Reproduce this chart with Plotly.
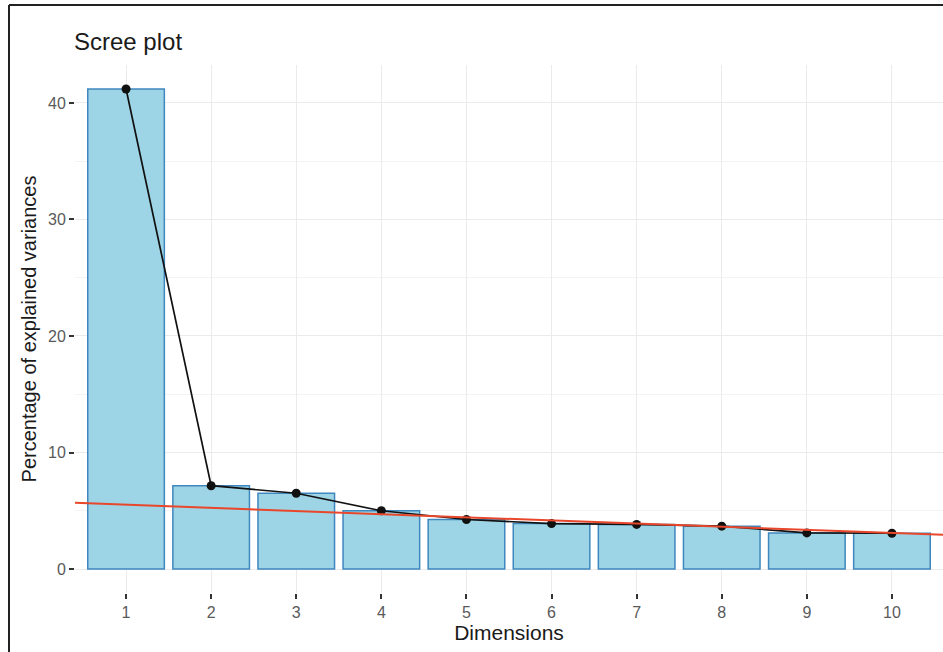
import plotly.graph_objects as go

# Explained variance (%) per principal dimension
dimensions = [1, 2, 3, 4, 5, 6, 7, 8, 9, 10]
explained_var = [41.2, 7.15, 6.5, 5.0, 4.25, 3.9, 3.83, 3.68, 3.1, 3.07]

# Straight reference line across the panel
trend_x = [0.4, 10.6]
trend_y = [5.68, 2.93]

x_ticks = [str(d) for d in dimensions]
y_ticks = [0, 10, 20, 30, 40]

W, H = 943, 652
ML, MR, MT, MB = 75, 0, 65, 59
pw, ph = W - ML - MR, H - MT - MB

fig = go.Figure()

fig.add_trace(go.Bar(
    x=dimensions, y=explained_var, width=0.9,
    marker=dict(color="#9DD5E6", line=dict(color="#3F87BE", width=1.5)),
    showlegend=False, hoverinfo="skip",
))

fig.add_trace(go.Scatter(
    x=dimensions, y=explained_var, mode="lines+markers",
    line=dict(color="#111111", width=1.7),
    marker=dict(color="#111111", size=9),
    showlegend=False,
))

fig.add_trace(go.Scatter(
    x=trend_x, y=trend_y, mode="lines",
    line=dict(color="#E8472B", width=2),
    showlegend=False,
))

# outer frame on the left and top edges
def px_x(p):
    return (p - ML) / pw

def px_y(p):
    return (H - MB - p) / ph

frame = dict(color="#222222", width=2)
fig.add_shape(type="line", xref="paper", yref="paper",
              x0=px_x(9), x1=px_x(9), y0=px_y(660), y1=px_y(5), line=frame)
fig.add_shape(type="line", xref="paper", yref="paper",
              x0=px_x(9), x1=px_x(950), y0=px_y(5), y1=px_y(5), line=frame)

font_family = "Liberation Sans, Arial, sans-serif"

fig.update_layout(
    width=W, height=H,
    margin=dict(l=ML, r=MR, t=MT, b=MB),
    paper_bgcolor="white", plot_bgcolor="white",
    font=dict(family=font_family, color="#222222"),
    title=dict(text="Scree plot", x=74 / W, xanchor="left",
               y=1 - 42 / H, yanchor="middle",
               font=dict(size=24, color="#1a1a1a", family=font_family)),
    bargap=0.1,
)

fig.update_xaxes(
    range=[0.4, 10.6], tickmode="array", tickvals=dimensions, ticktext=x_ticks,
    showgrid=True, gridcolor="#EBEBEB", gridwidth=1,
    ticks="outside", ticklen=5, tickcolor="#333333", tickwidth=1.5,
    tickfont=dict(size=16, color="#5A5A5A"),
    title=dict(text="Dimensions", font=dict(size=21, color="#1a1a1a"), standoff=4),
    zeroline=False, showline=False,
)

fig.update_yaxes(
    range=[-2.06, 43.26], tickmode="array", tickvals=y_ticks,
    showgrid=True, gridcolor="#EBEBEB", gridwidth=1,
    minor=dict(tickvals=[5, 15, 25, 35], showgrid=True, gridcolor="#F4F4F4", gridwidth=1),
    ticks="outside", ticklen=5, tickcolor="#333333", tickwidth=1.5,
    tickfont=dict(size=16, color="#5A5A5A"),
    title=dict(text="Percentage of explained variances",
               font=dict(size=20, color="#1a1a1a"), standoff=6),
    zeroline=False, showline=False,
)

fig.write_html("out.html")
